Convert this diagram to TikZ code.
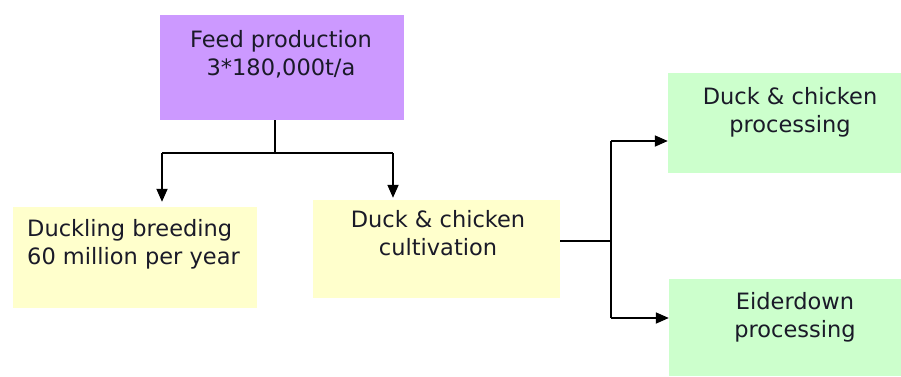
\documentclass[tikz,border=0pt]{standalone}
\usepackage{fontspec}
\setmainfont{DejaVu Sans}
\usetikzlibrary{arrows.meta}
\definecolor{purp}{HTML}{CC99FF}
\definecolor{yel}{HTML}{FFFFCC}
\definecolor{grn}{HTML}{CCFFCC}
\definecolor{txt}{HTML}{1A1A28}
\tikzset{
  box/.style={inner sep=0pt, draw=none},
  lbl/.style={inner sep=0pt, anchor=north, text=txt, font=\fontsize{22.5}{28.5}\selectfont},
  conn/.style={line width=1.8pt, black},
  arr/.style={conn, -{Triangle[length=13pt,width=11pt]}}
}
\begin{document}
\begin{tikzpicture}[x=1pt,y=-1pt]
\useasboundingbox (0,0) rectangle (901,376);
% boxes
\node[box, fill=purp, minimum width=244pt, minimum height=105pt] (feed) at (282,67.5) {};
\node[box, fill=yel, minimum width=244pt, minimum height=101pt] (duck) at (135,257.5) {};
\node[box, fill=yel, minimum width=247pt, minimum height=98pt] (cult) at (436.5,249) {};
\node[box, fill=grn, minimum width=233pt, minimum height=100pt] (proc) at (784.5,123) {};
\node[box, fill=grn, minimum width=232pt, minimum height=97pt] (eider) at (785,327.5) {};
% labels
\node[lbl, align=center] (feedt) at (281,30) {Feed production\\3*180,000t/a};
\node[lbl, align=left, anchor=north west] (duckt) at (27,219) {Duckling breeding\\60 million per year};
\node[lbl, align=center] (cultt) at (438,210) {Duck \& chicken\\cultivation};
\node[lbl, align=center] (proct) at (790,87) {Duck \& chicken\\processing};
\node[lbl, align=center] (eidert) at (795,292) {Eiderdown\\processing};
% connectors top
\coordinate (j1) at (275,153);
\coordinate (l1) at (162,153);
\coordinate (r1) at (393,153);
\draw[conn] (j1 |- feed.south) -- (j1);
\draw[conn] (l1) -- (r1);
\draw[arr] (l1) -- ([yshift=5pt]l1 |- duck.north);
\draw[arr] (r1) -- ([yshift=2pt]r1 |- cult.north);
% connectors right
\coordinate (j2) at (611,241);
\coordinate (t2) at (611,141);
\coordinate (b2) at (611,318);
\draw[conn] (cult.east |- j2) -- (j2);
\draw[conn] (t2) -- (b2);
\draw[arr] (t2) -- (t2 -| proc.west);
\draw[arr] (b2) -- (b2 -| eider.west);
\end{tikzpicture}
\end{document}
